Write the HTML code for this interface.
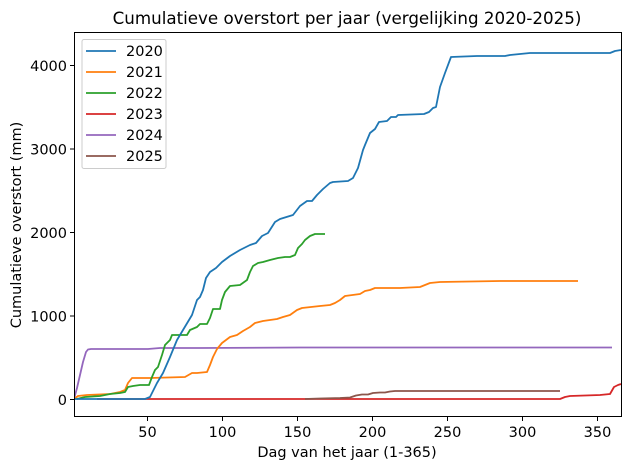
<!DOCTYPE html>
<html><head><meta charset="utf-8"><style>body{margin:0;background:#fff}svg{display:block}text{font-family:"DejaVu Sans","Liberation Sans",sans-serif;fill:#000}</style></head>
<body>
<svg width="630" height="470" viewBox="0 0 630 470" xmlns="http://www.w3.org/2000/svg">
<rect width="630" height="470" fill="#fff"/>
<text x="347" y="24" font-size="16.7" text-anchor="middle">Cumulatieve overstort per jaar (vergelijking 2020-2025)</text>
<g fill="none" stroke-width="1.8" stroke-linejoin="round" clip-path="url(#c)">
<clipPath id="c"><rect x="74" y="32" width="547" height="385"/></clipPath>
<polyline stroke="#d62728" points="97,399 560,399 565,397 570,396 600,395 610,394 614,387 618,385 621,384"/>
<polyline stroke="#8c564b" points="305,399 320,398.5 340,398 350,397.5 356,395.5 362,394.5 368,394.5 373,393 380,392.5 385,392.5 390,391.5 395,391 400,391 560,391"/>
<polyline stroke="#9467bd" points="74,399 77,388 80,375 83,362 86,352 88,349.5 91,349 148,349 160,348 200,348 300,347.5 450,347.5 612,347.5"/>
<polyline stroke="#ff7f0e" points="74,399 78,396 87,395 110,394 120,392 125,390 128,383 132,378 150,378 185,377 192,373 197,373 207,372 210,365 213,357 217,349 222,343 230,337 237,335 243,331 250,327 255,323 263,321 277,319 283,317 290,315 297,310 302,308 320,306 330,305 335,303 340,300 345,296 360,294 365,291 370,290 375,288 400,288 420,287 425,285 430,283 440,282 500,281 578,281"/>
<polyline stroke="#2ca02c" points="77,399 85,397 100,396 110,394 120,393 125,392 128,387 133,386 140,385 149,385 152,377 155,370 158,367 162,355 165,345 170,340 172,335 187,335 190,330 197,327 200,324 207,324 210,318 213,309 220,309 222,300 225,292 230,286 240,285 247,280 250,272 253,266 258,263 263,262 270,260 278,258 285,257 290,257 295,255 298,248 302,244 305,240 310,236 315,234 325,234"/>
<polyline stroke="#1f77b4" points="74,399 145,399 150,397 157,383 163,373 170,357 177,340 183,330 192,315 197,300 200,297 203,290 206,278 210,272 216,268 222,262 230,256 240,250 250,245 256,243 262,236 268,233 275,222 280,219 293,215 300,206 307,201 312,201 317,195 323,189 330,183 333,182 348,181 353,178 358,168 363,150 365,145 370,133 375,129 379,122 387,121 391,117 396,117 398,115 424,114 429,112 433,108 436,107 440,87 445,73 451,57 477,56 505,56 510,55 530,53 610,53 615,51 621,50"/>
</g>
<rect x="74.5" y="32.5" width="547" height="384" fill="none" stroke="#000" stroke-width="1"/>
<g stroke="#000" stroke-width="1">
<line x1="147.5" y1="417" x2="147.5" y2="421"/><line x1="222.5" y1="417" x2="222.5" y2="421"/><line x1="297.5" y1="417" x2="297.5" y2="421"/><line x1="372.5" y1="417" x2="372.5" y2="421"/><line x1="447.5" y1="417" x2="447.5" y2="421"/><line x1="522.5" y1="417" x2="522.5" y2="421"/><line x1="597.5" y1="417" x2="597.5" y2="421"/>
<line x1="70" y1="399.5" x2="74" y2="399.5"/><line x1="70" y1="316" x2="74" y2="316"/><line x1="70" y1="232.5" x2="74" y2="232.5"/><line x1="70" y1="149" x2="74" y2="149"/><line x1="70" y1="65.5" x2="74" y2="65.5"/>
</g>
<g font-size="14.5" text-anchor="middle">
<text x="147.5" y="437">50</text><text x="222.5" y="437">100</text><text x="297.5" y="437">150</text><text x="372.5" y="437">200</text><text x="447.5" y="437">250</text><text x="522.5" y="437">300</text><text x="597.5" y="437">350</text>
</g>
<g font-size="14.5" text-anchor="end">
<text x="67" y="405">0</text><text x="67" y="321.5">1000</text><text x="67" y="238">2000</text><text x="67" y="154.5">3000</text><text x="67" y="71">4000</text>
</g>
<text x="347" y="457" font-size="14.5" text-anchor="middle">Dag van het jaar (1-365)</text>
<text transform="translate(21,225) rotate(-90)" font-size="14.5" text-anchor="middle">Cumulatieve overstort (mm)</text>
<rect x="82" y="39.5" width="84" height="129" rx="2" fill="#fff" fill-opacity="0.8" stroke="#ccc"/>
<g stroke-width="1.8">
<line x1="86" y1="51" x2="116" y2="51" stroke="#1f77b4"/>
<line x1="86" y1="72" x2="116" y2="72" stroke="#ff7f0e"/>
<line x1="86" y1="93" x2="116" y2="93" stroke="#2ca02c"/>
<line x1="86" y1="114" x2="116" y2="114" stroke="#d62728"/>
<line x1="86" y1="135" x2="116" y2="135" stroke="#9467bd"/>
<line x1="86" y1="156" x2="116" y2="156" stroke="#8c564b"/>
</g>
<g font-size="14.5">
<text x="126" y="56">2020</text><text x="126" y="77">2021</text><text x="126" y="98">2022</text><text x="126" y="119">2023</text><text x="126" y="140">2024</text><text x="126" y="161">2025</text>
</g>
</svg>
</body></html>
